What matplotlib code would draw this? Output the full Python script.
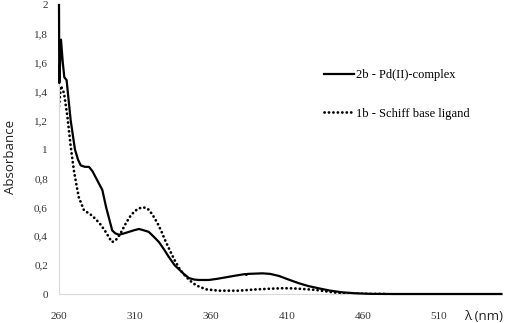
import numpy as np
import matplotlib
matplotlib.use("Agg")
import matplotlib.pyplot as plt

# 2b - Pd(II)-complex (solid)
wl_complex = [260.0, 260.2, 261.3, 262.5, 263.5, 265.0, 267.7, 270.5, 272.5, 274.3,
              277.0, 279.7, 282.0, 284.0, 288.5, 291.0, 293.5, 295.0, 297.0, 299.5,
              303.0, 306.0, 309.0, 312.6, 316.0, 319.0, 322.0, 325.7, 329.0, 332.0,
              336.0, 339.0, 342.0, 345.5, 349.0, 352.0, 358.5, 364.0, 369.5, 376.0,
              382.5, 383.2, 384.0, 389.0, 393.8, 399.0, 404.7, 411.0, 417.9, 424.0,
              431.0, 438.0, 446.0, 455.0, 465.0, 480.0, 551.0]
abs_complex = [2.00, 1.46, 1.76, 1.60, 1.50, 1.48, 1.20, 1.00, 0.93, 0.89,
               0.88, 0.88, 0.85, 0.81, 0.72, 0.60, 0.50, 0.44, 0.42, 0.41,
               0.42, 0.43, 0.44, 0.45, 0.44, 0.43, 0.40, 0.36, 0.31, 0.26,
               0.20, 0.17, 0.14, 0.11, 0.10, 0.097, 0.097, 0.105, 0.115, 0.127,
               0.138, 0.132, 0.139, 0.141, 0.143, 0.139, 0.125, 0.10, 0.074, 0.055,
               0.039, 0.024, 0.012, 0.005, 0.001, 0.0, 0.0]

# 1b - Schiff base ligand (dotted)
wl_ligand = [260.0, 261.3, 263.3, 265.5, 267.7, 270.0, 273.0, 276.4, 280.8, 284.0,
             287.4, 290.7, 293.0, 294.7, 296.5, 298.4, 301.0, 304.0, 307.0, 309.5,
             312.0, 315.0, 317.5, 319.4, 322.0, 324.8, 327.5, 330.3, 333.0, 336.0,
             339.5, 343.5, 347.0, 350.0, 353.5, 357.0, 365.0, 378.0, 390.0, 400.0,
             407.0, 414.0, 420.0, 429.0, 438.0, 446.0, 460.0, 475.0]
abs_ligand = [1.30, 1.44, 1.39, 1.23, 1.02, 0.84, 0.67, 0.58, 0.55, 0.52,
              0.48, 0.43, 0.39, 0.36, 0.365, 0.385, 0.43, 0.49, 0.54, 0.57,
              0.59, 0.60, 0.595, 0.58, 0.54, 0.49, 0.43, 0.36, 0.30, 0.235,
              0.17, 0.12, 0.085, 0.062, 0.045, 0.032, 0.023, 0.023, 0.032, 0.037,
              0.040, 0.039, 0.035, 0.028, 0.015, 0.005, 0.001, 0.0]

xticks = [260, 310, 360, 410, 460, 510]
yticks = [0, 0.2, 0.4, 0.6, 0.8, 1.0, 1.2, 1.4, 1.6, 1.8, 2.0]
ytick_labels = ["0", "0,2", "0,4", "0,6", "0,8", "1", "1,2", "1,4", "1,6", "1,8", "2"]

fig = plt.figure(figsize=(5.05, 3.23), dpi=100)
ax = fig.add_axes([59 / 505, 1 - 294 / 323, (502 - 59) / 505, (294 - 5) / 323])

ax.plot(wl_complex, abs_complex, color="black", lw=1.6, label="2b - Pd(II)-complex",
        solid_joinstyle="round", zorder=3, clip_on=False)
ax.plot(wl_ligand, abs_ligand, color="black", lw=2.0, linestyle=(0, (0.05, 1.55)),
        dash_capstyle="round", label="1b - Schiff base ligand", zorder=2)

ax.set_xlim(260, 551.4)
ax.set_ylim(0, 2)
ax.set_xticks(xticks)
ax.set_xticklabels([str(t) for t in xticks])
ax.set_yticks(yticks)
ax.set_yticklabels(ytick_labels)

for s in ["top", "right"]:
    ax.spines[s].set_visible(False)
for s in ["left", "bottom"]:
    ax.spines[s].set_color("#d9d9d9")
    ax.spines[s].set_linewidth(0.8)

ax.tick_params(axis="both", length=0, labelsize=8, colors="#333333")
ax.tick_params(axis="x", pad=13)
ax.tick_params(axis="y", pad=8)
for lab in ax.get_xticklabels() + ax.get_yticklabels():
    lab.set_family("Liberation Serif")

fig.text(10.5 / 505, 1 - 157 / 323, "Absorbance", rotation=90, ha="center", va="center",
         fontsize=9.5, family="Open Sans", color="#222222")
fig.text(484 / 505, 1 - 316 / 323, "\u03bb (nm)", ha="center", va="center",
         fontsize=9.5, family="Open Sans", color="#222222")

leg = ax.legend(loc="upper left", bbox_to_anchor=(313 / 505, 1 - 58 / 323),
                bbox_transform=fig.transFigure, frameon=False, handlelength=2.4,
                handletextpad=0.15, labelspacing=2.1,
                prop={"family": "Liberation Serif", "size": 9})

fig.savefig("out.png", dpi=100)
